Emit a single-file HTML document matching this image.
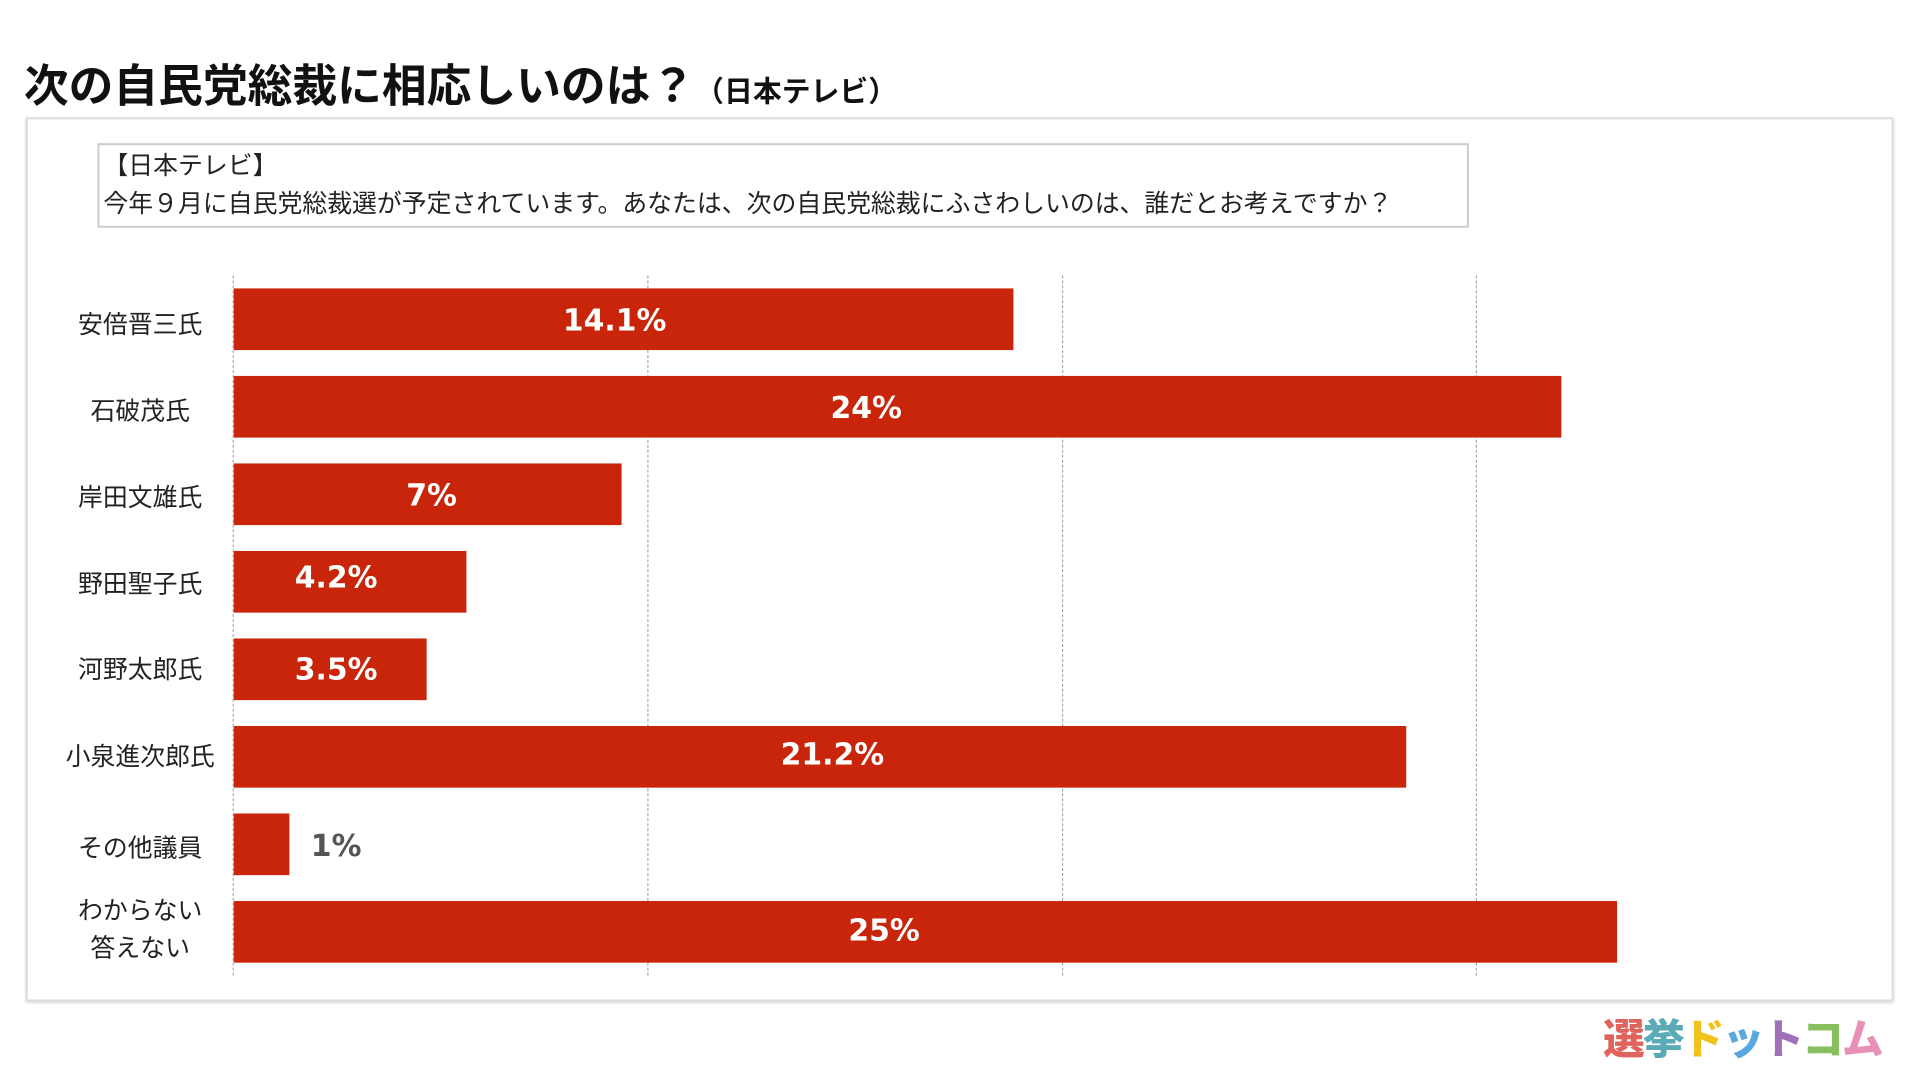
<!DOCTYPE html>
<html><head><meta charset="utf-8"><style>
*{margin:0;padding:0;box-sizing:border-box}
body{width:1920px;height:1080px;background:#fff;position:relative;overflow:hidden;font-family:"Liberation Sans","Noto Sans CJK JP",sans-serif;color:#222}
#w{position:absolute;left:0;top:0;width:1930px;height:1086px;transform:scale(0.9945);transform-origin:0 0}
.abs{position:absolute}
.bar{position:absolute;left:235px;height:62px;background:#c8250a}
.v{position:absolute;color:#fff;font-weight:bold;font-size:30px;transform:translate(-50%,-50%);white-space:nowrap;font-family:"DejaVu Sans","Noto Sans CJK JP",sans-serif}
.c{position:absolute;width:220px;left:31px;text-align:center;font-size:25px;transform:translateY(-50%);color:#222;white-space:nowrap}
.g{position:absolute;top:277px;height:704px;border-left:1px dashed #999}
</style></head><body><div id="w">
<div class="abs" style="left:24px;top:50px;font-size:45px;font-weight:bold;color:#111;white-space:nowrap">次の自民党総裁に相応しいのは？<span style="font-size:29px">（日本テレビ）</span></div>
<div class="abs" style="left:26px;top:118px;width:1878px;height:889px;border:2px solid #ddd;box-shadow:0 1px 3px #ccc"></div>
<div class="abs" style="left:98px;top:144px;width:1379px;height:85px;border:2px solid #ccc;font-size:25px;padding:2px 4px;line-height:38px;color:#222;white-space:nowrap">【日本テレビ】<br>今年９月に自民党総裁選が予定されています。あなたは、次の自民党総裁にふさわしいのは、誰だとお考えですか？</div>
<div class="g" style="left:234px"></div>
<div class="g" style="left:651px"></div>
<div class="g" style="left:1068px"></div>
<div class="g" style="left:1484px"></div>
<div class="bar" style="top:290px;width:784px"></div>
<div class="bar" style="top:378px;width:1335px"></div>
<div class="bar" style="top:466px;width:390px"></div>
<div class="bar" style="top:554px;width:234px"></div>
<div class="bar" style="top:642px;width:194px"></div>
<div class="bar" style="top:730px;width:1179px"></div>
<div class="bar" style="top:818px;width:56px"></div>
<div class="bar" style="top:906px;width:1391px"></div>
<div class="v" style="left:618px;top:323px">14.1%</div>
<div class="v" style="left:871px;top:411px">24%</div>
<div class="v" style="left:434px;top:499px">7%</div>
<div class="v" style="left:338px;top:581px">4.2%</div>
<div class="v" style="left:338px;top:674px">3.5%</div>
<div class="v" style="left:837px;top:759px">21.2%</div>
<div class="v" style="left:338px;top:851px;color:#555">1%</div>
<div class="v" style="left:889px;top:936px">25%</div>
<div class="c" style="top:325px">安倍晋三氏</div>
<div class="c" style="top:412px">石破茂氏</div>
<div class="c" style="top:499px">岸田文雄氏</div>
<div class="c" style="top:586px">野田聖子氏</div>
<div class="c" style="top:672px">河野太郎氏</div>
<div class="c" style="top:759px">小泉進次郎氏</div>
<div class="c" style="top:851px">その他議員</div>
<div class="c" style="top:935px;line-height:38px">わからない<br>答えない</div>
<div class="abs" style="left:1612px;top:1012px;font-size:42px;font-weight:900;white-space:nowrap;letter-spacing:-2px"><span style="color:#e0635e">選</span><span style="color:#5aaab8">挙</span><span style="color:#f2c21b">ド</span><span style="color:#5aa8e0">ッ</span><span style="color:#a070b8">ト</span><span style="color:#88c060">コ</span><span style="color:#e890b8">ム</span></div>
</div></body></html>
